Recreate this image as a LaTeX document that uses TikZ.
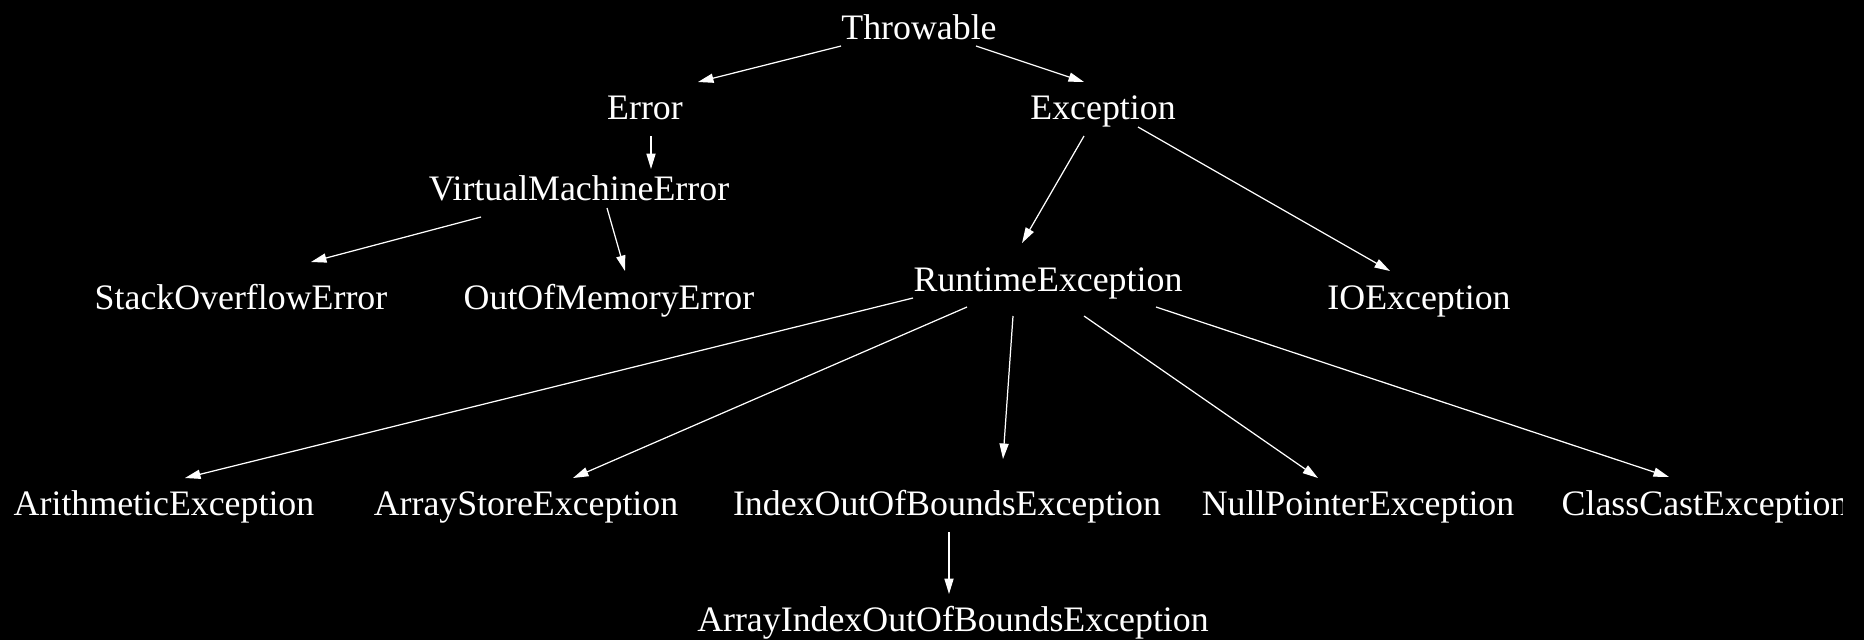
\documentclass[tikz,border=0pt]{standalone}
\usepackage{fontspec}
\setmainfont{Liberation Serif}
\usetikzlibrary{arrows.meta}
\tikzset{
  cls/.style={anchor=base, inner sep=0pt, text=white, font=\fontsize{10.19}{12}\selectfont},
  inh/.style={draw=white, line width=0.35pt, -{Triangle[length=4.4pt,width=2.6pt]}}
}
\begin{document}
\begin{tikzpicture}[x=0.01cm, y=-0.01cm]
\useasboundingbox (0,0) rectangle (1864,639);
\fill[black] (-20,-20) rectangle (1884,659);
\begin{scope}
\clip (0,0) rectangle (1842,639);
\node[cls] (thr) at (919,39) {Throwable};
\node[cls] (err) at (645,119) {Error};
\node[cls] (exc) at (1103,119) {Exception};
\node[cls] (vme) at (579,200) {VirtualMachineError};
\node[cls] (soe) at (241,309) {StackOverflowError};
\node[cls] (oom) at (609,309) {OutOfMemoryError};
\node[cls] (rte) at (1048,291) {RuntimeException};
\node[cls] (ioe) at (1419,309) {IOException};
\node[cls] (ari) at (164,515) {ArithmeticException};
\node[cls] (ase) at (526,515) {ArrayStoreException};
\node[cls] (ioo) at (947,515) {IndexOutOfBoundsException};
\node[cls] (npe) at (1358,515) {NullPointerException};
\node[cls] (cce) at (1705,515) {ClassCastException};
\node[cls] (aio) at (953,631) {ArrayIndexOutOfBoundsException};
\end{scope}
\draw[inh] ([shift={(-78,7)}]thr.base) -- ([shift={(53,-37)}]err.base);
\draw[inh] ([shift={(57,7)}]thr.base) -- ([shift={(-19,-37)}]exc.base);
\draw[inh] ([shift={(6,17)}]err.base) -- ([shift={(72,-31)}]vme.base);
\draw[inh] ([shift={(-98,17)}]vme.base) -- ([shift={(70,-47)}]soe.base);
\draw[inh] ([shift={(28,8)}]vme.base) -- ([shift={(16,-38)}]oom.base);
\draw[inh] ([shift={(-19,17)}]exc.base) -- ([shift={(-26,-48)}]rte.base);
\draw[inh] ([shift={(35,8)}]exc.base) -- ([shift={(-29,-38)}]ioe.base);
\draw[inh] ([shift={(-135,7)}]rte.base) -- ([shift={(21,-37)}]ari.base);
\draw[inh] ([shift={(-81,16)}]rte.base) -- ([shift={(47,-37)}]ase.base);
\draw[inh] ([shift={(-35,25)}]rte.base) -- ([shift={(56,-56)}]ioo.base);
\draw[inh] ([shift={(36,25)}]rte.base) -- ([shift={(-40,-37)}]npe.base);
\draw[inh] ([shift={(108,16)}]rte.base) -- ([shift={(-36,-38)}]cce.base);
\draw[inh] ([shift={(2,17)}]ioo.base) -- ([shift={(-4,-37)}]aio.base);
\end{tikzpicture}
\end{document}
